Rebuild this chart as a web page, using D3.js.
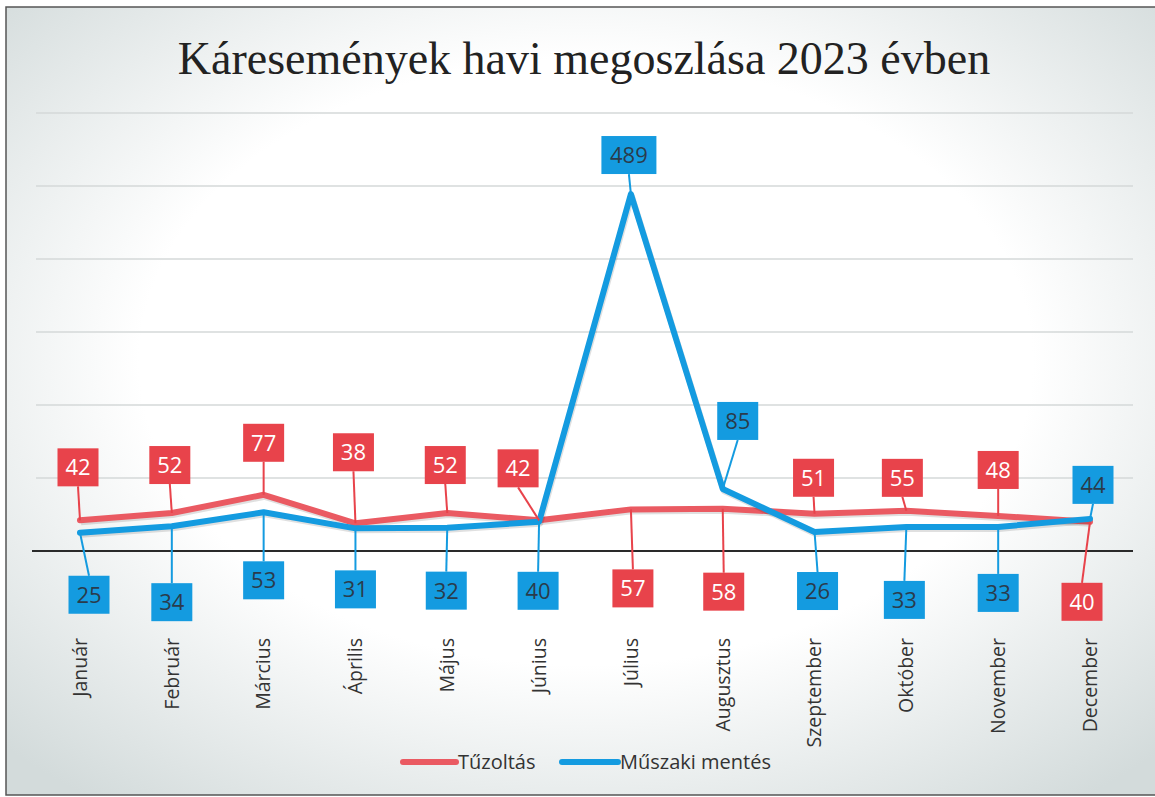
<!DOCTYPE html>
<html><head><meta charset="utf-8">
<script src="https://cdn.jsdelivr.net/npm/d3@7"></script>
<style>html,body{margin:0;padding:0;background:#fff;}svg{display:block;}</style>
</head><body>
<svg id="chart" width="1155" height="797"></svg>
<script>
const months = ["Január","Február","Március","Április","Május","Június","Július","Augusztus","Szeptember","Október","November","December"];
const tuzoltas = [42,52,77,38,52,42,57,58,51,55,48,40];
const muszaki = [25,34,53,31,32,40,489,85,26,33,33,44];
const yTicks = [0,100,200,300,400,500,600];
const seriesNames = ["Tűzoltás","Műszaki mentés"];
const titleText = "Káresemények havi megoszlása 2023 évben";
// label box offsets (px) relative to each point
const redOffsets = [[-2,-53],[-2,-48],[0,-52],[-2,-71],[-2,-48],[-21,-52],[2,79],[1,83],[-1,-36],[-4,-33],[0,-46],[-8,80]];
const blueOffsets = [[9,62],[0,76],[0,68],[0,61],[-1,63],[-1,69],[-2,-39],[15,-68],[3,59],[-2,73],[0,66],[3,-34]];

const RED = "#e8434b", RED_LINE = "#ea5a62", BLUE = "#149be0", BLUE_TEXT = "#2a3b4c";
const svg = d3.select("#chart");
const defs = svg.append("defs");
const rg = defs.append("radialGradient").attr("id","bg").attr("cx","50%").attr("cy","45%").attr("r","70%");
rg.append("stop").attr("offset","0%").attr("stop-color","#ffffff");
rg.append("stop").attr("offset","55%").attr("stop-color","#ffffff");
rg.append("stop").attr("offset","100%").attr("stop-color","#d3dbdb");
svg.append("rect").attr("x",0).attr("y",0).attr("width",1155).attr("height",797).attr("fill","#fff");
svg.append("rect").attr("x",6).attr("y",7).attr("width",1160).attr("height",788).attr("fill","url(#bg)").attr("stroke","#555").attr("stroke-width",1.5);

const x = d3.scalePoint().domain(months).range([80,1090]);
const y = d3.scaleLinear().domain([0,600]).range([551,113]);

// gridlines
svg.append("g").selectAll("line").data(yTicks.filter(d=>d>0)).join("line")
  .attr("x1",36).attr("x2",1133).attr("y1",d=>y(d)).attr("y2",d=>y(d))
  .attr("stroke","#d4d8d8").attr("stroke-width",1.5);
// axis line
svg.append("line").attr("x1",32).attr("x2",1133).attr("y1",y(0)).attr("y2",y(0)).attr("stroke","#2a2a2a").attr("stroke-width",2);

// title
svg.append("text").attr("x",584).attr("y",74).attr("text-anchor","middle")
  .attr("font-family","'Liberation Serif','Times New Roman',serif").attr("font-size",46).attr("fill","#222")
  .text(titleText);

// month labels
svg.append("g").selectAll("text").data(months).join("text")
  .attr("transform",d=>`translate(${x(d)},638) rotate(-90)`)
  .attr("text-anchor","end").attr("dy","0.35em")
  .attr("font-family","'Open Sans','Noto Sans',sans-serif").attr("font-size",19.5).attr("fill","#333")
  .text(d=>d);

const line = d3.line().x((d,i)=>x(months[i])).y(d=>y(d));
svg.append("path").datum(tuzoltas).attr("d",line).attr("fill","none").attr("stroke","rgba(0,0,0,0.12)").attr("stroke-width",6).attr("transform","translate(1,2)").attr("stroke-linejoin","round");
svg.append("path").datum(tuzoltas).attr("d",line).attr("fill","none").attr("stroke",RED_LINE).attr("stroke-width",6).attr("stroke-linejoin","round").attr("stroke-linecap","round");
svg.append("path").datum(muszaki).attr("d",line).attr("fill","none").attr("stroke","rgba(0,0,0,0.12)").attr("stroke-width",6).attr("transform","translate(1,2)").attr("stroke-linejoin","round");
svg.append("path").datum(muszaki).attr("d",line).attr("fill","none").attr("stroke",BLUE).attr("stroke-width",6).attr("stroke-linejoin","round").attr("stroke-linecap","round");

function drawLabels(vals, offs, fill, textFill){
  const g = svg.append("g");
  vals.forEach((v,i)=>{
    const px = x(months[i]), py = y(v);
    const cx = px + offs[i][0], cy = py + offs[i][1];
    const w = String(v).length > 2 ? 55 : 41, h = 38;
    const ey = offs[i][1] < 0 ? cy + h/2 : cy - h/2;
    g.append("line").attr("x1",px).attr("y1",py).attr("x2",cx).attr("y2",ey).attr("stroke",fill).attr("stroke-width",2);
    g.append("rect").attr("x",cx-w/2).attr("y",cy-h/2).attr("width",w).attr("height",h).attr("fill",fill);
    g.append("text").attr("x",cx).attr("y",cy).attr("dy","0.36em").attr("text-anchor","middle")
      .attr("font-family","'Open Sans','Noto Sans',sans-serif").attr("font-size",22).attr("fill",textFill).text(v);
  });
}
drawLabels(tuzoltas, redOffsets, RED, "#ffffff");
drawLabels(muszaki, blueOffsets, BLUE, BLUE_TEXT);

// legend
const lg = svg.append("g").attr("font-family","'Open Sans','Noto Sans',sans-serif").attr("font-size",20).attr("fill","#333");
const legendItems = [{name:seriesNames[0],color:RED_LINE,x:403,w:53},{name:seriesNames[1],color:BLUE,x:562,w:56}];
legendItems.forEach(it=>{
  lg.append("line").attr("x1",it.x).attr("x2",it.x+it.w).attr("y1",762).attr("y2",762).attr("stroke",it.color).attr("stroke-width",6).attr("stroke-linecap","round");
  lg.append("text").attr("x",it.x+it.w+2).attr("y",762).attr("dy","0.35em").text(it.name);
});
</script>
</body></html>
